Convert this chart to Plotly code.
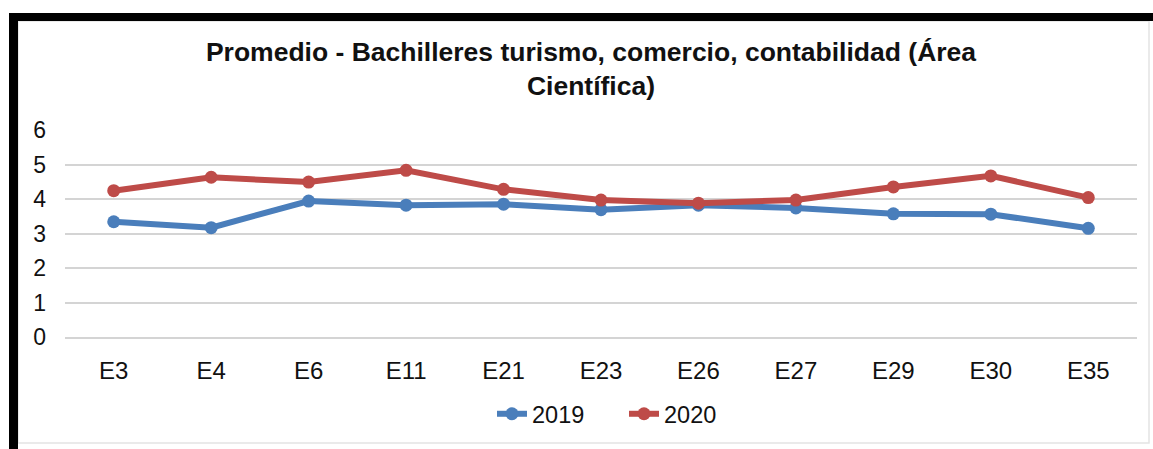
import plotly.graph_objects as go

categories = ["E3", "E4", "E6", "E11", "E21", "E23", "E26", "E27", "E29", "E30", "E35"]
values_2019 = [3.34, 3.17, 3.94, 3.82, 3.85, 3.69, 3.82, 3.74, 3.57, 3.56, 3.15]
values_2020 = [4.24, 4.63, 4.49, 4.83, 4.28, 3.97, 3.88, 3.97, 4.35, 4.67, 4.04]
series_names = ["2019", "2020"]
y_ticks = [0, 1, 2, 3, 4, 5, 6]
title_text = "Promedio - Bachilleres turismo, comercio, contabilidad (Área<br>Científica)"

W, H = 1153, 449
FONT = "Liberation Sans, Arial, sans-serif"
BLUE = "#4A7EBB"
RED = "#BE4B48"

fig = go.Figure()
for name, vals, col in [(series_names[0], values_2019, BLUE), (series_names[1], values_2020, RED)]:
    fig.add_trace(go.Scatter(
        x=categories, y=vals, name=name, mode="lines+markers",
        line=dict(color=col, width=6),
        marker=dict(color=col, size=13, symbol="circle"),
    ))

pl, pr, pt, pb = 65, 16, 130, 112
pw, ph = W - pl - pr, H - pt - pb

fig.update_layout(
    width=W, height=H, autosize=False,
    paper_bgcolor="white", plot_bgcolor="white",
    margin=dict(l=pl, r=pr, t=pt, b=pb, autoexpand=False),
    font=dict(family=FONT, size=23, color="#111111"),
    title=dict(
        text=title_text, x=591 / W, xanchor="center", xref="container",
        y=1 - 61 / H, yanchor="top", yref="container",
        font=dict(family=FONT, size=26.5, color="#111111", weight="bold"),
    ),
    showlegend=True,
    legend=dict(
        orientation="h", x=492 / W, xanchor="left", xref="container",
        y=1 - 414 / H, yanchor="middle", yref="container",
        font=dict(size=23.5), bgcolor="rgba(0,0,0,0)",
        entrywidth=87, entrywidthmode="pixels",
    ),
    xaxis=dict(
        type="category", range=[-0.5, len(categories) - 0.5], automargin=False,
        showgrid=False, showline=True, linecolor="#D4D4D4", linewidth=2,
        ticks="", ticklabelstandoff=11, tickfont=dict(size=24),
        zeroline=False, fixedrange=True,
    ),
    yaxis=dict(
        range=[0, 6], tickvals=y_ticks, showgrid=True, gridcolor="#D4D4D4",
        gridwidth=2, zeroline=False, showline=False, ticks="", automargin=False,
        ticklabelstandoff=18, tickfont=dict(size=23), fixedrange=True,
    ),
)

def px(x):
    return (x - pl) / pw
def py(y):
    return (H - pb - y) / ph

frame_shapes = [
    dict(type="rect", xref="paper", yref="paper", x0=px(18), x1=px(1149), y0=py(443), y1=py(21),
         line=dict(color="#E4E4E4", width=1.5), fillcolor="rgba(0,0,0,0)", layer="below"),
    dict(type="rect", xref="paper", yref="paper", x0=px(9), x1=px(1153), y0=py(21), y1=py(13),
         line=dict(width=0), fillcolor="black"),
    dict(type="rect", xref="paper", yref="paper", x0=px(9), x1=px(18), y0=py(449), y1=py(13),
         line=dict(width=0), fillcolor="black"),
]
fig.update_layout(shapes=frame_shapes)

fig.write_html(
    "out.html",
    config={"displayModeBar": False, "responsive": False},
    post_script="document.body.style.margin='0';document.body.style.overflow='hidden';",
)
